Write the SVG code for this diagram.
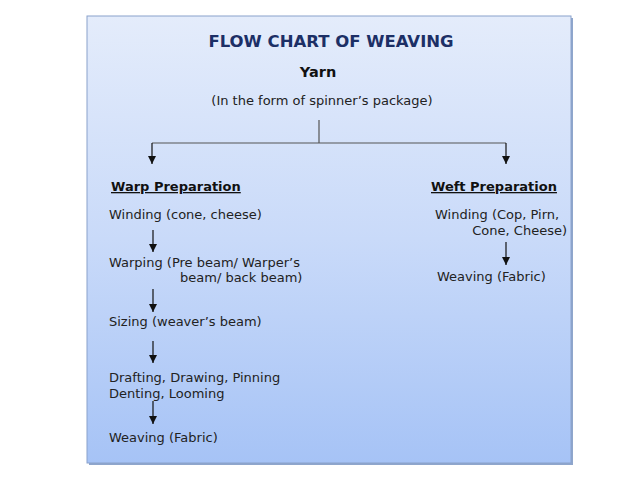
<svg xmlns="http://www.w3.org/2000/svg" width="638" height="479" viewBox="0 0 638 479">
<defs>
<linearGradient id="bg" x1="0" y1="0" x2="0" y2="1">
<stop offset="0" stop-color="#e4ecfb"/>
<stop offset="0.5" stop-color="#c9daf9"/>
<stop offset="1" stop-color="#a6c3f6"/>
</linearGradient>
<marker id="ah" viewBox="0 0 8 8" refX="8" refY="4" markerWidth="8" markerHeight="8" markerUnits="userSpaceOnUse" orient="auto">
<path d="M0,0 L8,4 L0,8 Z" fill="#111"/>
</marker>
<style>
.t{font-family:"DejaVu Sans",Verdana,sans-serif;fill:#222;font-size:13px}
.b{font-weight:bold}
.ttl{font-family:"DejaVu Sans",Verdana,sans-serif;font-weight:bold;font-size:16.5px;fill:#1c2f66}
.c{stroke:#111;stroke-width:1.2;fill:none}
.c2{stroke:#555;stroke-width:1.2;fill:none}
</style>
</defs>
<rect width="638" height="479" fill="#fff"/>
<rect x="89" y="18" width="484" height="447" fill="#8fa6cc"/>
<rect x="87" y="16" width="484" height="447" fill="url(#bg)" stroke="#8aa2cc" stroke-width="1"/>
<g id="title"><text class="ttl" x="331" y="47" text-anchor="middle">FLOW CHART OF WEAVING</text></g>
<g id="yarn">
<text class="t b" x="318" y="77" text-anchor="middle" style="font-size:14.5px;fill:#111">Yarn</text>
<text class="t" x="322" y="105" text-anchor="middle">(In the form of spinner’s package)</text>
</g>
<g id="warp-prep"><text class="t b" x="111" y="191" text-decoration="underline" style="fill:#111">Warp Preparation</text></g>
<g id="warp-winding"><text class="t" x="109" y="219">Winding (cone, cheese)</text></g>
<g id="warping"><text class="t" x="109" y="267">Warping (Pre beam/ Warper’s</text><text class="t" x="180" y="282">beam/ back beam)</text></g>
<g id="sizing"><text class="t" x="109" y="326">Sizing (weaver’s beam)</text></g>
<g id="drafting"><text class="t" x="109" y="382">Drafting, Drawing, Pinning</text><text class="t" x="109" y="398">Denting, Looming</text></g>
<g id="warp-weaving"><text class="t" x="109" y="442">Weaving (Fabric)</text></g>
<g id="weft-prep"><text class="t b" x="431" y="191" text-decoration="underline" style="fill:#111">Weft Preparation</text></g>
<g id="weft-winding"><text class="t" x="435" y="219">Winding (Cop, Pirn,</text><text class="t" x="567" y="235" text-anchor="end">Cone, Cheese)</text></g>
<g id="weft-weaving"><text class="t" x="437" y="281">Weaving (Fabric)</text></g>
<g id="connectors">
<path class="c2" d="M319,120 V143 M152,143 H506"/>
<path class="c" d="M152,143 V164" marker-end="url(#ah)"/>
<path class="c" d="M506,143 V164" marker-end="url(#ah)"/>
<path class="c" d="M153,230 V252" marker-end="url(#ah)"/>
<path class="c" d="M153,289 V312" marker-end="url(#ah)"/>
<path class="c" d="M153,341 V363" marker-end="url(#ah)"/>
<path class="c" d="M153,401 V424" marker-end="url(#ah)"/>
<path class="c" d="M506,242 V265" marker-end="url(#ah)"/>
</g>
</svg>
